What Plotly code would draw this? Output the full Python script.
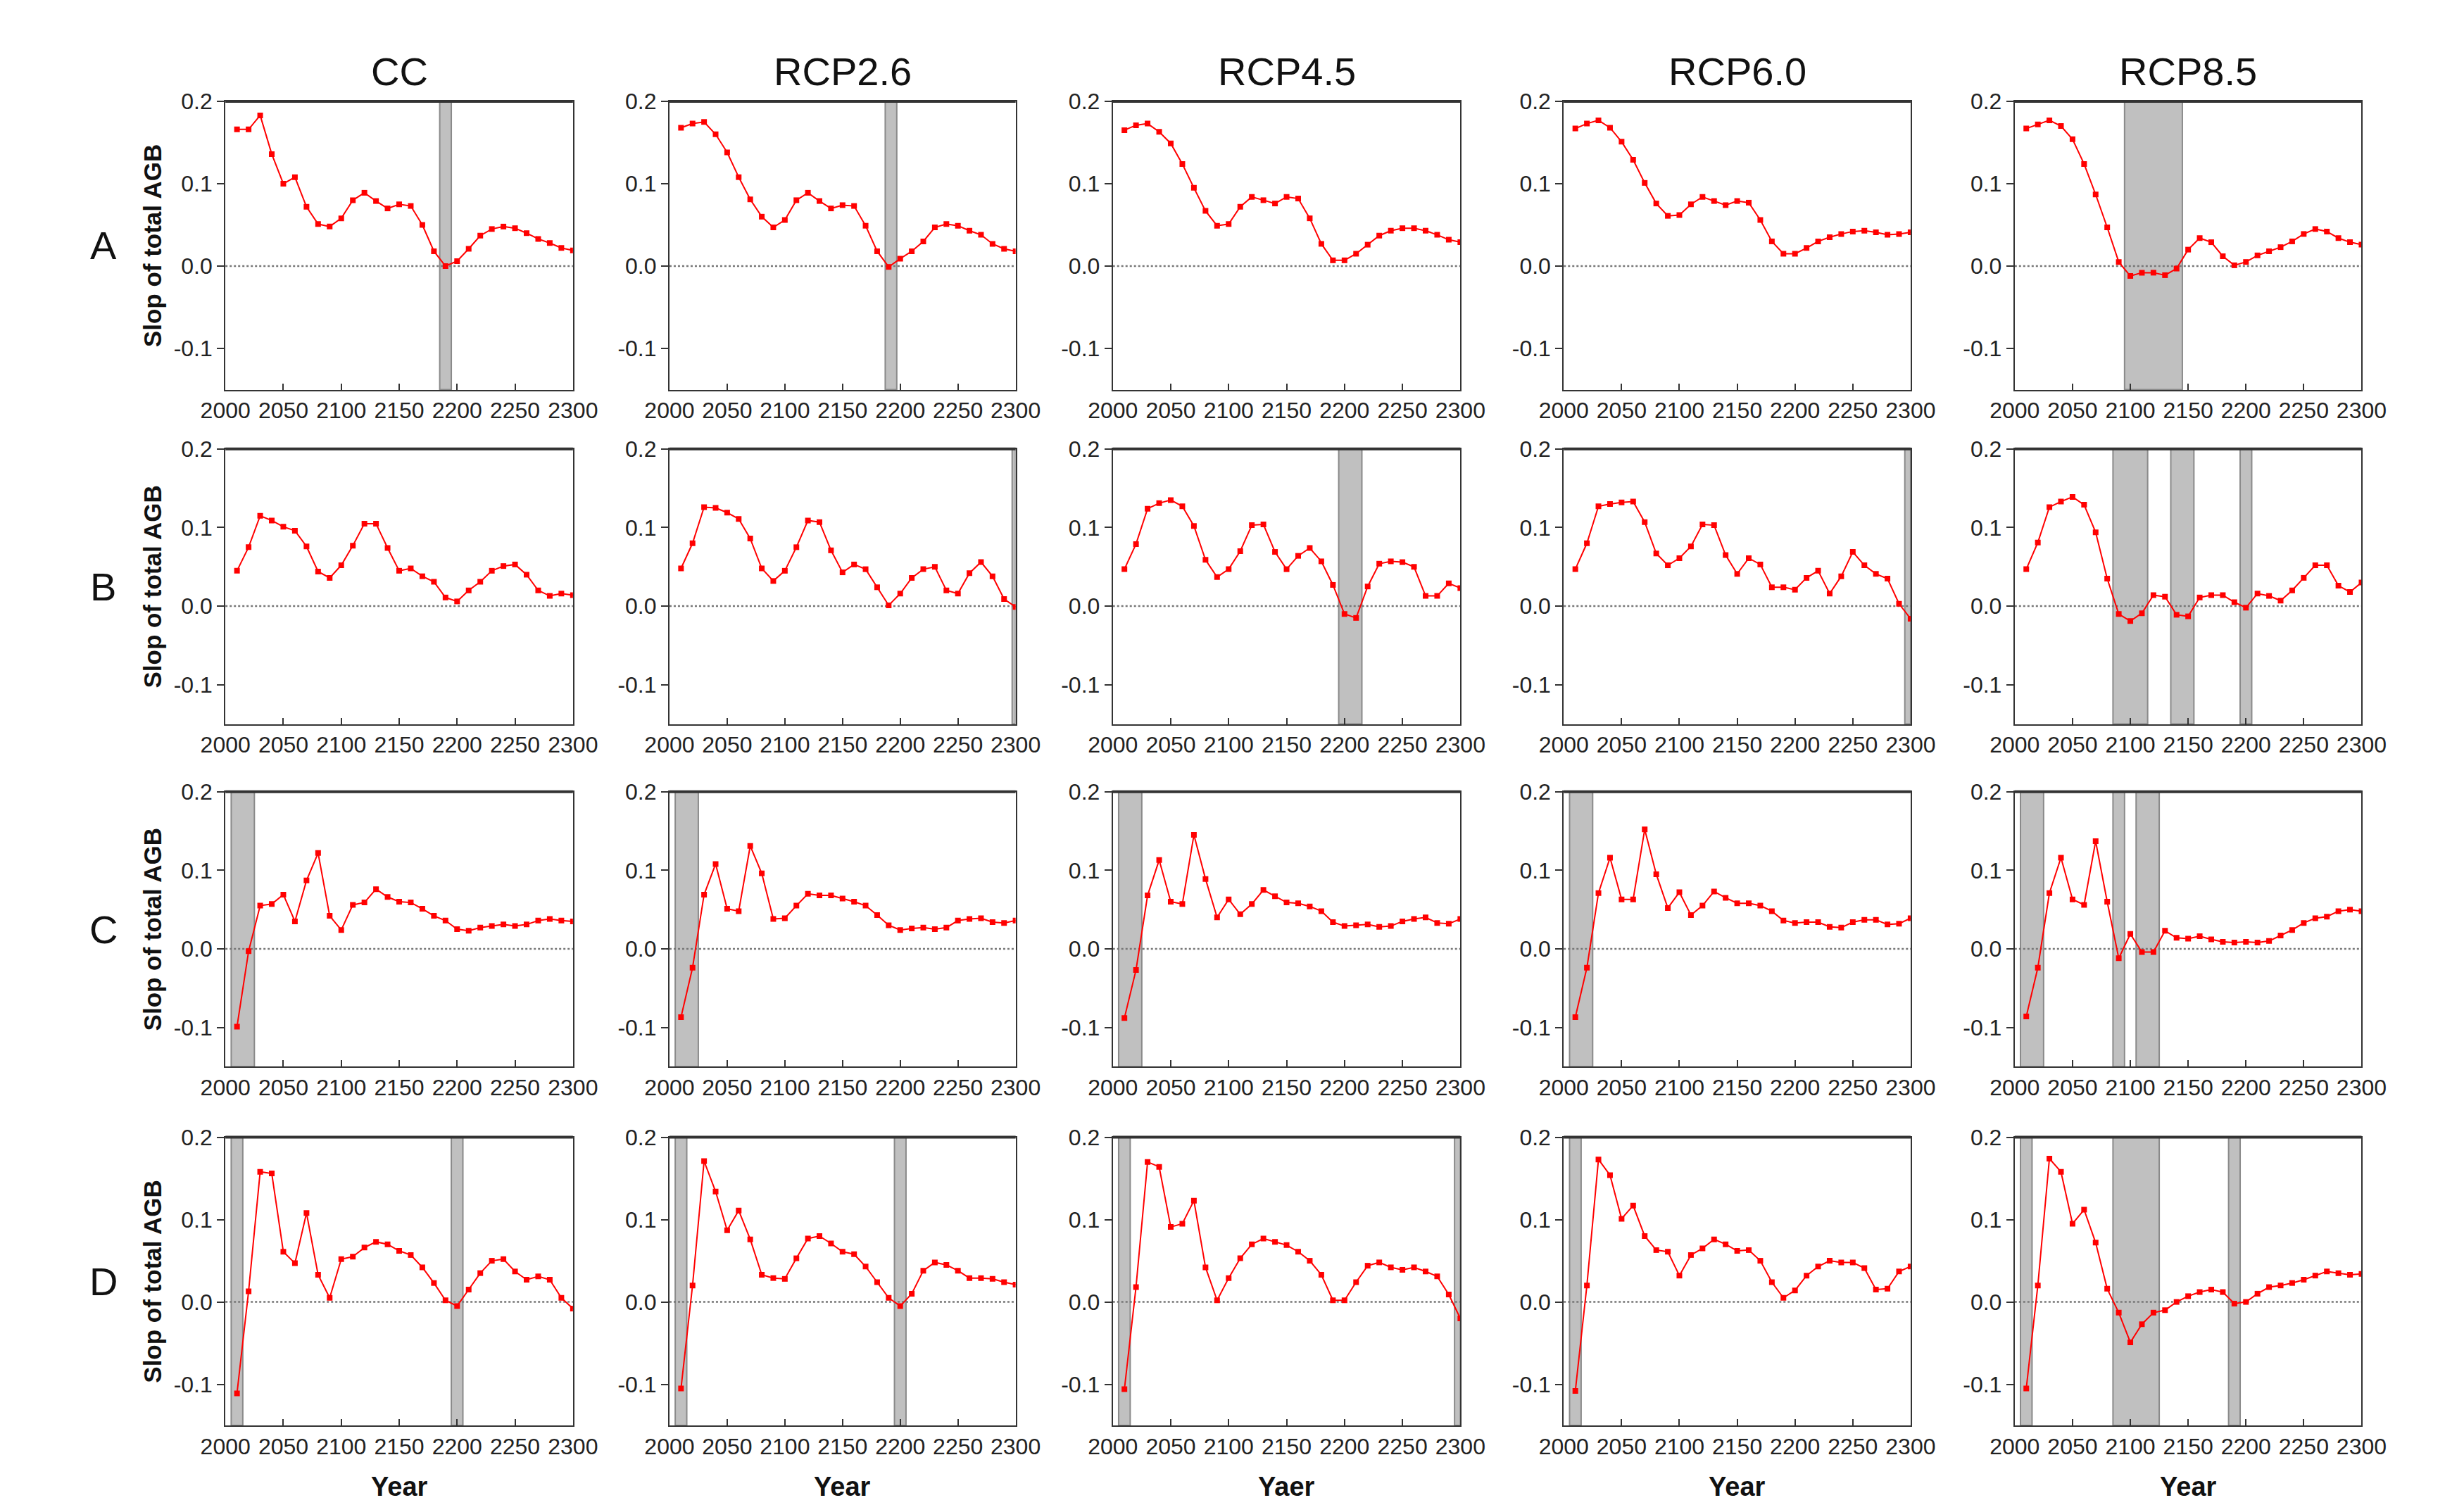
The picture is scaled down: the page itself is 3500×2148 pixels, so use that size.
import plotly.graph_objects as go

years = list(range(2010, 2301, 10))
columns = ["CC", "RCP2.6", "RCP4.5", "RCP6.0", "RCP8.5"]
rows = ["A", "B", "C", "D"]
xlabels = ["Year", "Year", "Yaer", "Year", "Year"]
yticks = [-0.1, 0.0, 0.1, 0.2]
ytick_labels = ["-0.1", "0.0", "0.1", "0.2"]
xticks = [2000, 2050, 2100, 2150, 2200, 2250, 2300]

# Row A
cc_a = [0.166, 0.166, 0.183, 0.136, 0.100, 0.108, 0.072, 0.051, 0.048, 0.058, 0.080, 0.089, 0.079, 0.070, 0.075,
        0.073, 0.050, 0.018, 0.000, 0.006, 0.021, 0.037, 0.045, 0.048, 0.046, 0.040, 0.033, 0.028, 0.022, 0.019]
rcp26_a = [0.168, 0.173, 0.175, 0.160, 0.138, 0.108, 0.081, 0.060, 0.047, 0.056, 0.080, 0.089, 0.079, 0.070, 0.074,
           0.073, 0.049, 0.018, -0.001, 0.009, 0.018, 0.030, 0.047, 0.051, 0.049, 0.043, 0.038, 0.027, 0.021, 0.018]
rcp45_a = [0.165, 0.171, 0.173, 0.163, 0.149, 0.124, 0.095, 0.067, 0.049, 0.051, 0.072, 0.084, 0.080, 0.076, 0.084,
           0.082, 0.058, 0.027, 0.007, 0.007, 0.015, 0.026, 0.037, 0.043, 0.046, 0.046, 0.043, 0.038, 0.032, 0.029]
rcp60_a = [0.167, 0.173, 0.177, 0.168, 0.151, 0.129, 0.101, 0.076, 0.061, 0.062, 0.075, 0.084, 0.079, 0.074, 0.079,
           0.077, 0.056, 0.030, 0.015, 0.015, 0.022, 0.030, 0.035, 0.039, 0.042, 0.043, 0.041, 0.038, 0.039, 0.041]
rcp85_a = [0.167, 0.172, 0.177, 0.170, 0.154, 0.124, 0.087, 0.047, 0.005, -0.012, -0.008, -0.008, -0.011, -0.003, 0.020,
           0.034, 0.029, 0.012, 0.001, 0.005, 0.013, 0.018, 0.023, 0.030, 0.039, 0.045, 0.042, 0.034, 0.029, 0.026]
# Row B
cc_b = [0.045, 0.075, 0.115, 0.109, 0.101, 0.096, 0.076, 0.044, 0.036, 0.052, 0.077, 0.105, 0.105, 0.074, 0.045,
        0.048, 0.038, 0.031, 0.011, 0.006, 0.020, 0.031, 0.045, 0.051, 0.053, 0.040, 0.020, 0.013, 0.016, 0.014]
rcp26_b = [0.048, 0.080, 0.126, 0.125, 0.119, 0.111, 0.086, 0.048, 0.032, 0.045, 0.075, 0.109, 0.107, 0.071, 0.043,
           0.053, 0.047, 0.024, 0.001, 0.016, 0.036, 0.047, 0.050, 0.020, 0.016, 0.042, 0.056, 0.038, 0.009, -0.001]
rcp45_b = [0.047, 0.079, 0.124, 0.131, 0.135, 0.127, 0.102, 0.059, 0.037, 0.047, 0.070, 0.103, 0.104, 0.069, 0.047,
           0.064, 0.074, 0.057, 0.027, -0.010, -0.015, 0.025, 0.054, 0.057, 0.056, 0.050, 0.013, 0.013, 0.029, 0.023]
rcp60_b = [0.047, 0.080, 0.127, 0.130, 0.132, 0.133, 0.107, 0.067, 0.052, 0.061, 0.076, 0.104, 0.103, 0.065, 0.041,
           0.061, 0.053, 0.024, 0.024, 0.021, 0.036, 0.045, 0.016, 0.038, 0.069, 0.052, 0.041, 0.035, 0.003, -0.016]
rcp85_b = [0.047, 0.081, 0.126, 0.133, 0.139, 0.129, 0.094, 0.035, -0.010, -0.019, -0.009, 0.014, 0.012, -0.011, -0.013,
           0.011, 0.014, 0.014, 0.005, -0.002, 0.016, 0.013, 0.007, 0.020, 0.036, 0.052, 0.052, 0.026, 0.018, 0.030]
# Row C
cc_c = [-0.099, -0.003, 0.055, 0.057, 0.069, 0.035, 0.087, 0.122, 0.042, 0.024, 0.056, 0.059, 0.076, 0.066, 0.060,
        0.059, 0.051, 0.042, 0.036, 0.025, 0.023, 0.027, 0.029, 0.031, 0.029, 0.031, 0.036, 0.038, 0.036, 0.035]
rcp26_c = [-0.087, -0.024, 0.069, 0.108, 0.051, 0.048, 0.131, 0.096, 0.038, 0.039, 0.055, 0.070, 0.068, 0.068, 0.064,
           0.060, 0.055, 0.043, 0.030, 0.024, 0.026, 0.027, 0.025, 0.027, 0.036, 0.038, 0.039, 0.034, 0.033, 0.036]
rcp45_c = [-0.088, -0.027, 0.068, 0.113, 0.060, 0.057, 0.145, 0.089, 0.040, 0.063, 0.044, 0.057, 0.075, 0.067, 0.059,
           0.058, 0.054, 0.048, 0.034, 0.029, 0.030, 0.031, 0.028, 0.029, 0.035, 0.038, 0.040, 0.033, 0.032, 0.038]
rcp60_c = [-0.087, -0.024, 0.071, 0.116, 0.063, 0.063, 0.152, 0.095, 0.052, 0.072, 0.043, 0.055, 0.073, 0.065, 0.058,
           0.058, 0.055, 0.048, 0.036, 0.033, 0.034, 0.034, 0.028, 0.027, 0.034, 0.037, 0.037, 0.031, 0.032, 0.039]
rcp85_c = [-0.086, -0.024, 0.071, 0.116, 0.063, 0.056, 0.137, 0.060, -0.012, 0.019, -0.004, -0.004, 0.023, 0.014, 0.013,
           0.016, 0.012, 0.009, 0.008, 0.009, 0.008, 0.010, 0.017, 0.024, 0.033, 0.039, 0.041, 0.048, 0.050, 0.048]
# Row D
cc_d = [-0.111, 0.013, 0.158, 0.156, 0.061, 0.047, 0.108, 0.033, 0.005, 0.052, 0.055, 0.066, 0.073, 0.070, 0.062,
        0.057, 0.042, 0.023, 0.002, -0.005, 0.015, 0.035, 0.050, 0.052, 0.037, 0.027, 0.031, 0.027, 0.005, -0.008]
rcp26_d = [-0.105, 0.020, 0.171, 0.134, 0.087, 0.111, 0.076, 0.033, 0.029, 0.028, 0.053, 0.077, 0.080, 0.071, 0.061,
           0.058, 0.043, 0.024, 0.005, -0.005, 0.010, 0.038, 0.048, 0.045, 0.038, 0.029, 0.029, 0.028, 0.024, 0.021]
rcp45_d = [-0.106, 0.018, 0.170, 0.164, 0.091, 0.095, 0.123, 0.042, 0.002, 0.029, 0.053, 0.070, 0.077, 0.073, 0.069,
           0.061, 0.050, 0.033, 0.002, 0.002, 0.024, 0.044, 0.048, 0.042, 0.039, 0.042, 0.037, 0.031, 0.009, -0.020]
rcp60_d = [-0.108, 0.020, 0.173, 0.154, 0.101, 0.117, 0.080, 0.063, 0.061, 0.032, 0.057, 0.065, 0.076, 0.070, 0.062,
           0.063, 0.050, 0.024, 0.005, 0.014, 0.032, 0.043, 0.050, 0.048, 0.048, 0.041, 0.015, 0.016, 0.037, 0.043]
rcp85_d = [-0.105, 0.020, 0.174, 0.158, 0.095, 0.112, 0.072, 0.016, -0.013, -0.049, -0.027, -0.013, -0.010, 0.000, 0.007,
           0.012, 0.015, 0.012, -0.002, 0.000, 0.010, 0.018, 0.020, 0.023, 0.027, 0.032, 0.037, 0.035, 0.033, 0.034]

series = [
    [cc_a, rcp26_a, rcp45_a, rcp60_a, rcp85_a],
    [cc_b, rcp26_b, rcp45_b, rcp60_b, rcp85_b],
    [cc_c, rcp26_c, rcp45_c, rcp60_c, rcp85_c],
    [cc_d, rcp26_d, rcp45_d, rcp60_d, rcp85_d],
]

# shaded periods (start year, end year)
bands_a = [[(2185, 2195)], [(2187, 2197)], [], [], [(2095, 2145)]]
bands_b = [[], [(2297, 2300)], [(2195, 2215)], [(2295, 2300)], [(2085, 2115), (2135, 2155), (2195, 2205)]]
bands_c = [[(2005, 2025)], [(2005, 2025)], [(2005, 2025)], [(2005, 2025)], [(2005, 2025), (2085, 2095), (2105, 2125)]]
bands_d = [[(2005, 2015), (2195, 2205)], [(2005, 2015), (2195, 2205)], [(2005, 2015), (2295, 2300)], [(2005, 2015)],
           [(2005, 2015), (2085, 2125), (2185, 2195)]]
bands = [bands_a, bands_b, bands_c, bands_d]

W, H = 3500, 2148
col_px = [(282, 786), (926, 1428), (1569, 2073), (2223, 2726), (2877, 3380)]
row_px = [(119, 532), (617, 1011), (1108, 1502), (1603, 2016)]

def px(x):
    return x / W

def py(y):
    return 1 - y / H

fig = go.Figure()
FONT = "Liberation Sans, Arial, sans-serif"

for r in range(4):
    for c in range(5):
        idx = r * 5 + c + 1
        xa = "xaxis" if idx == 1 else f"xaxis{idx}"
        ya = "yaxis" if idx == 1 else f"yaxis{idx}"
        xr = "x" if idx == 1 else f"x{idx}"
        yr = "y" if idx == 1 else f"y{idx}"
        x0, x1 = col_px[c]
        y0, y1 = row_px[r]
        fig.update_layout(**{
            xa: dict(domain=[px(x0), px(x1)], anchor=yr, range=[2000, 2300], tickvals=xticks,
                     ticks="inside", ticklen=9, tickwidth=2, tickcolor="#333", showline=True, mirror=True,
                     linecolor="#333", linewidth=2, showgrid=False, zeroline=False,
                     tickfont=dict(family=FONT, size=32, color="#222")),
            ya: dict(domain=[py(y1), py(y0)], anchor=xr, range=[-0.15, 0.2], tickvals=yticks,
                     ticktext=ytick_labels, ticks="outside", ticklen=10, tickwidth=2, tickcolor="#333",
                     showline=True, mirror=True, linecolor="#333", linewidth=2, showgrid=False,
                     zeroline=False, tickfont=dict(family=FONT, size=32, color="#222")),
        })
        for (b0, b1) in bands[r][c]:
            fig.add_shape(type="rect", xref=xr, yref=f"{yr} domain", x0=max(b0, 2000), x1=min(b1, 2300),
                          y0=0, y1=1, fillcolor="#c0c0c0", line=dict(color="#8a8a8a", width=2), layer="below")
        fig.add_shape(type="line", xref=f"{xr} domain", yref=yr, x0=0, x1=1, y0=0, y1=0,
                      line=dict(color="#777", width=2.5, dash="dot"), layer="below")
        fig.add_shape(type="line", xref=f"{xr} domain", yref=f"{yr} domain", x0=0, x1=1, y0=1, y1=1,
                      line=dict(color="#333", width=4))
        fig.add_trace(go.Scatter(x=years, y=series[r][c], xaxis=xr, yaxis=yr, mode="lines+markers",
                                 line=dict(color="#ff0000", width=2),
                                 marker=dict(symbol="square", size=8, color="#ff0000"),
                                 showlegend=False))

annotations = []
for c, name in enumerate(columns):
    xc = (col_px[c][0] + col_px[c][1]) / 2
    annotations.append(dict(text=name, x=px(xc), y=py(76), xref="paper", yref="paper", showarrow=False,
                            font=dict(family=FONT, size=56, color="#111"), xanchor="center", yanchor="middle"))
    annotations.append(dict(text=f"<b>{xlabels[c]}</b>", x=px(xc), y=py(2104), xref="paper", yref="paper",
                            showarrow=False, font=dict(family=FONT, size=38, color="#111"),
                            xanchor="center", yanchor="middle"))
for r, lab in enumerate(rows):
    yc = (row_px[r][0] + row_px[r][1]) / 2
    annotations.append(dict(text=lab, x=px(105), y=py(yc), xref="paper", yref="paper", showarrow=False,
                            font=dict(family=FONT, size=56, color="#111"), xanchor="center", yanchor="middle"))
    annotations.append(dict(text="<b>Slop of total AGB</b>", x=px(176), y=py(yc), xref="paper", yref="paper",
                            showarrow=False, textangle=-90, font=dict(family=FONT, size=35, color="#111"),
                            xanchor="center", yanchor="middle"))

fig.update_layout(width=W, height=H, margin=dict(l=0, r=0, t=0, b=0), paper_bgcolor="white",
                  plot_bgcolor="white", annotations=annotations)

fig.write_html("out.html")
